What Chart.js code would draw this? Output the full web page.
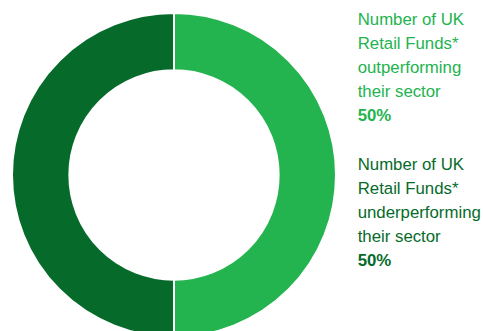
<!DOCTYPE html>
<html>
<head>
<meta charset="utf-8">
<script src="https://cdn.jsdelivr.net/npm/chart.js@4"></script>
<style>
  html, body { margin: 0; padding: 0; background: #fff; overflow: hidden; }
  body { width: 483px; height: 331px; position: relative; }
  #wrap { position: absolute; left: 10.5px; top: 12px; width: 326px; height: 326px; }
  .label { position: absolute; left: 357.7px; font-family: "Liberation Sans", Arial, sans-serif;
           font-size: 16.8px; line-height: 24px; white-space: nowrap; }
  .label b { font-weight: bold; }
</style>
</head>
<body>
<div id="wrap"><canvas id="myChart"></canvas></div>
<div class="label" id="lab0" style="top:8.2px"></div>
<div class="label" id="lab1" style="top:153.2px"></div>
<script>
const categories = ["Number of UK Retail Funds* outperforming their sector",
                    "Number of UK Retail Funds* underperforming their sector"];
const labelLines = [
  ["Number of UK", "Retail Funds*", "outperforming", "their sector"],
  ["Number of UK", "Retail Funds*", "underperforming", "their sector"]
];
const values = [50, 50];
const colours = ["#23b34f", "#066b2a"];

labelLines.forEach((lines, i) => {
  const el = document.getElementById("lab" + i);
  el.style.color = colours[i];
  el.innerHTML = lines.join("<br>") + "<br><b>" + values[i] + "%</b>";
});

const ctx = document.getElementById("myChart").getContext("2d");
const chart = new Chart(ctx, {
  type: "doughnut",
  data: {
    labels: categories,
    datasets: [{
      data: values,
      backgroundColor: colours,
      borderColor: "#ffffff",
      borderWidth: 2
    }]
  },
  options: {
    responsive: true,
    maintainAspectRatio: false,
    animation: false,
    cutout: "64.6%",
    plugins: { legend: { display: false }, tooltip: { enabled: false } }
  }
});
</script>
</body>
</html>
